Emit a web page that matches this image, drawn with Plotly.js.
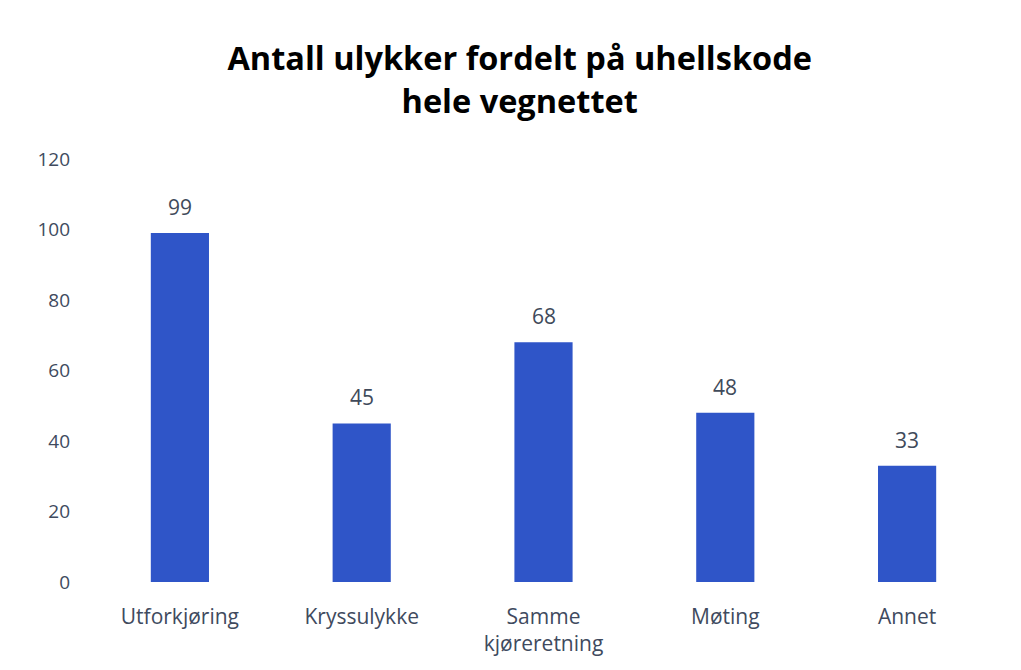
<!DOCTYPE html>
<html><head><meta charset="utf-8">
<script src="https://cdn.plot.ly/plotly-3.0.1.min.js"></script>
<style>html,body{margin:0;padding:0;background:#fff;}</style>
</head><body>
<div id="chart" style="width:1021px;height:670px;"></div>
<script>
var categories = ["Utforkjøring", "Kryssulykke", "Samme<br>kjøreretning", "Møting", "Annet"];
var values = [99, 45, 68, 48, 33];
var yTicks = [0, 20, 40, 60, 80, 100, 120];

var trace = {
  type: 'bar',
  x: categories,
  y: values,
  marker: {color: '#2f55c8'},
  hoverinfo: 'none'
};

var labels = categories.map(function (c, i) {
  return {
    x: c, y: values[i], xref: 'x', yref: 'y',
    text: String(values[i]), showarrow: false,
    yanchor: 'bottom', yshift: 10,
    font: {family: 'Open Sans, sans-serif', size: 21, color: '#404a5a'}
  };
});

var layout = {
  width: 1021, height: 670,
  margin: {l: 89, r: 23, t: 159, b: 88},
  paper_bgcolor: '#ffffff', plot_bgcolor: '#ffffff',
  bargap: 0.68,
  showlegend: false,
  annotations: labels,
  title: {
    text: '<b>Antall ulykker fordelt på uhellskode<br>hele vegnettet</b>',
    x: 0.509, xanchor: 'center', y: 0.895, yanchor: 'top',
    font: {family: 'Open Sans, sans-serif', size: 32.5, color: '#000000'}
  },
  xaxis: {
    showline: false, showgrid: false, zeroline: false, ticks: '',
    ticklabelstandoff: 20,
    tickfont: {family: 'Open Sans, sans-serif', size: 21, color: '#404a5e'}
  },
  yaxis: {
    range: [0, 120], tickvals: yTicks, ticktext: yTicks.map(String),
    showline: false, showgrid: false, zeroline: false, ticks: '',
    ticklabelstandoff: 18,
    tickfont: {family: 'Open Sans, sans-serif', size: 19, color: '#404a5e'}
  }
};

Plotly.newPlot('chart', [trace], layout, {displayModeBar: false, staticPlot: true});
</script>
</body></html>
